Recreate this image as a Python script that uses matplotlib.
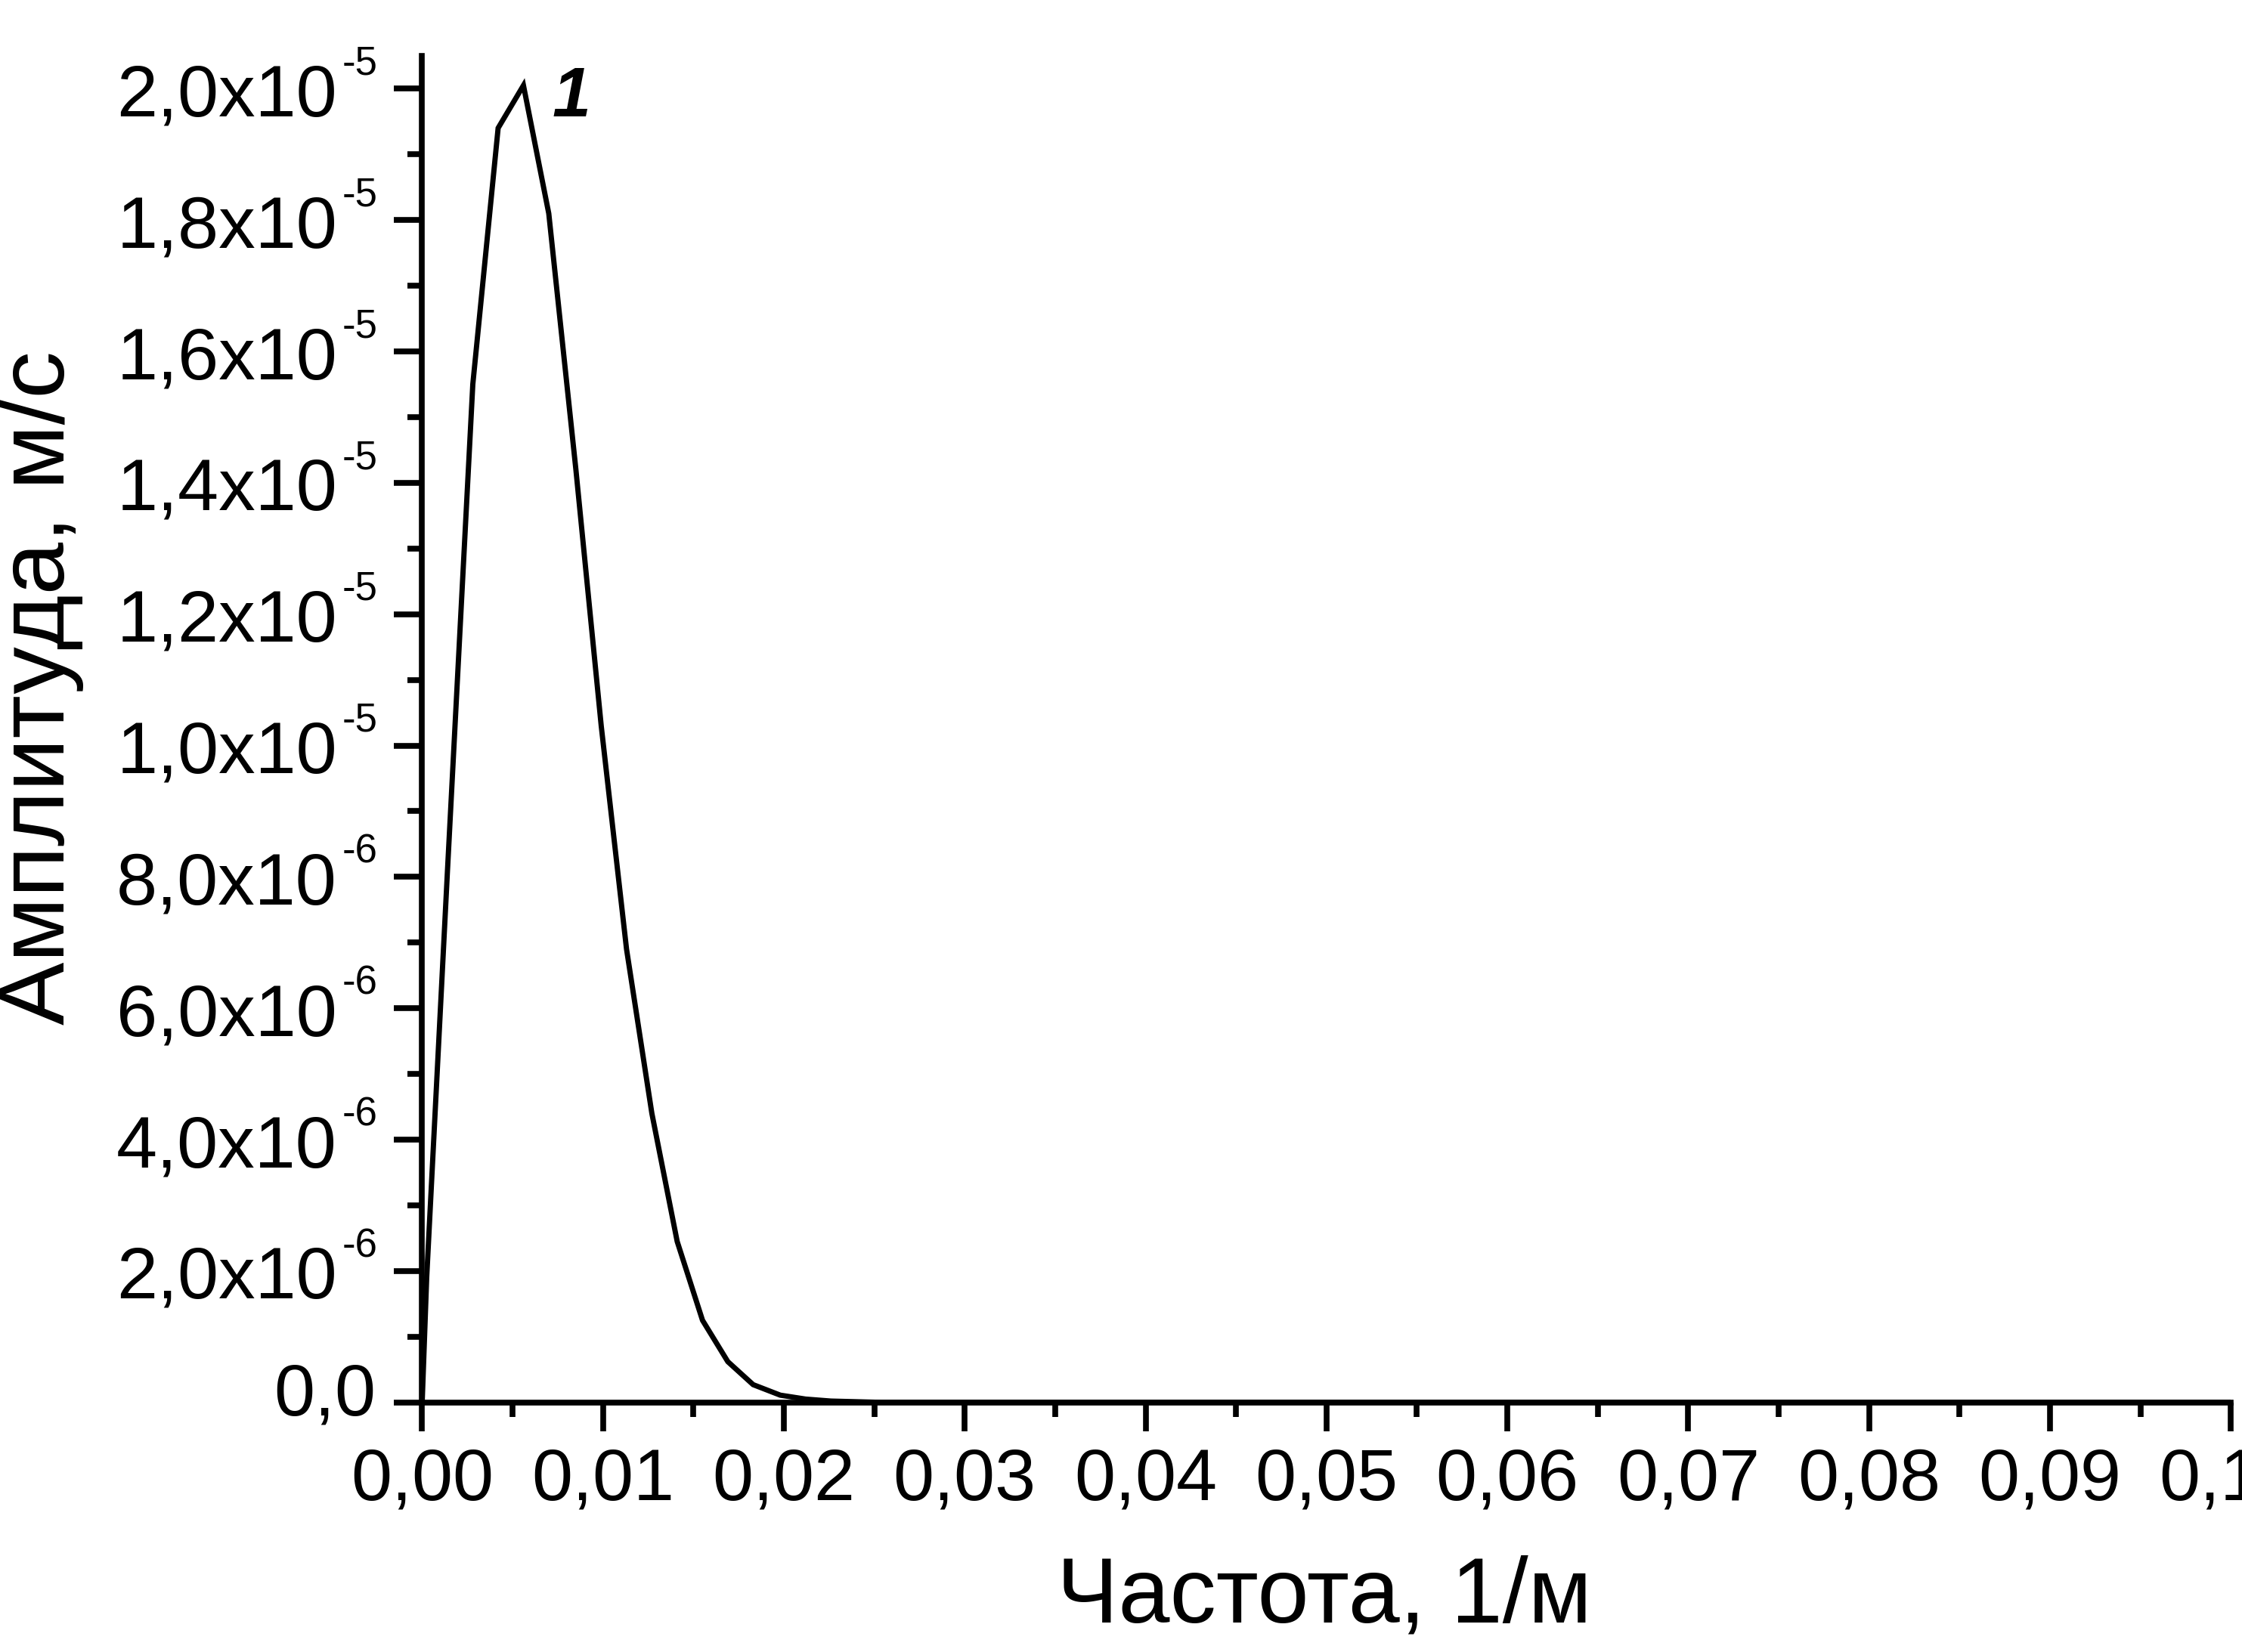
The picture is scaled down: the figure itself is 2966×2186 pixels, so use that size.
import matplotlib
matplotlib.use('Agg')
import matplotlib.pyplot as plt
from matplotlib.ticker import FixedLocator, MultipleLocator

plt.rcParams['font.family'] = ['Liberation Sans', 'DejaVu Sans']

# curve 1
freq = [0.0, 0.00025, 0.0014, 0.0028, 0.0042, 0.0056, 0.0070, 0.0085, 0.0099,
        0.0113, 0.0127, 0.0141, 0.0155, 0.0169, 0.0183, 0.0198, 0.0212,
        0.0226, 0.0240, 0.0254, 0.1]
amp = [0.0, 1.9e-6, 8.1e-6, 15.5e-6, 19.4e-6, 20.05e-6, 18.1e-6, 14.2e-6,
       10.3e-6, 6.9e-6, 4.4e-6, 2.45e-6, 1.25e-6, 0.62e-6, 0.27e-6, 0.11e-6,
       0.05e-6, 0.02e-6, 0.01e-6, 0.0, 0.0]

xticks = [0.0, 0.01, 0.02, 0.03, 0.04, 0.05, 0.06, 0.07, 0.08, 0.09, 0.1]
xtick_labels = ['0,00', '0,01', '0,02', '0,03', '0,04', '0,05', '0,06',
                '0,07', '0,08', '0,09', '0,10']
yticks = [0.0, 2e-6, 4e-6, 6e-6, 8e-6, 1e-5, 1.2e-5, 1.4e-5, 1.6e-5, 1.8e-5, 2e-5]
ytick_mant = ['0,0', '2,0x10', '4,0x10', '6,0x10', '8,0x10', '1,0x10',
              '1,2x10', '1,4x10', '1,6x10', '1,8x10', '2,0x10']
ytick_exp = ['', '-6', '-6', '-6', '-6', '-5', '-5', '-5', '-5', '-5', '-5']

fig = plt.figure(figsize=(29.66, 21.86), dpi=100)
ax = fig.add_axes([0.1883, 0.1511, 0.8067, 0.8151])

ax.plot(freq, amp, color='black', lw=5, solid_joinstyle='miter')
ax.text(0.00827, 1.985e-5, '1', fontsize=66, fontweight='bold',
        fontstyle='italic', ha='center', va='center')

ax.set_xlim(0, 0.1)
ax.set_ylim(0, 2.05e-5)
ax.xaxis.set_major_locator(FixedLocator(xticks))
ax.set_xticklabels(xtick_labels)
ax.xaxis.set_minor_locator(MultipleLocator(0.005))
ax.yaxis.set_major_locator(FixedLocator(yticks))
ax.yaxis.set_minor_locator(MultipleLocator(1e-6))

for s in ['top', 'right']:
    ax.spines[s].set_visible(False)
for s in ['left', 'bottom']:
    ax.spines[s].set_linewidth(5.5)

ax.tick_params(which='major', direction='out', length=27, width=5.5,
               labelsize=70)
ax.tick_params(which='minor', direction='out', length=14, width=5.5)
ax.tick_params(axis='x', which='major', pad=15.5)
ax.tick_params(axis='y', labelleft=False)

# y tick labels in Origin style: mantissa x10 with a small raised exponent
for y, mant, ex in zip(yticks, ytick_mant, ytick_exp):
    if ex:
        ax.annotate(mant, xy=(0, y), xycoords=('axes fraction', 'data'),
                    xytext=(-81, -26), textcoords='offset points',
                    fontsize=70, ha='right', va='baseline',
                    annotation_clip=False)
        ax.annotate(ex, xy=(0, y), xycoords=('axes fraction', 'data'),
                    xytext=(-76, 13.5), textcoords='offset points',
                    fontsize=38, ha='left', va='baseline',
                    annotation_clip=False)
    else:
        ax.annotate(mant, xy=(0, y), xycoords=('axes fraction', 'data'),
                    xytext=(-44, -12), textcoords='offset points',
                    fontsize=70, ha='right', va='baseline',
                    annotation_clip=False)

fig.text(0.5907, 0.0325, 'Частота, 1/м', fontsize=88, ha='center', va='center')
fig.text(0.0178, 0.5837, 'Амплитуда, м/с', fontsize=90, rotation=90,
         ha='center', va='center')

fig.savefig('out.png', dpi=100)
